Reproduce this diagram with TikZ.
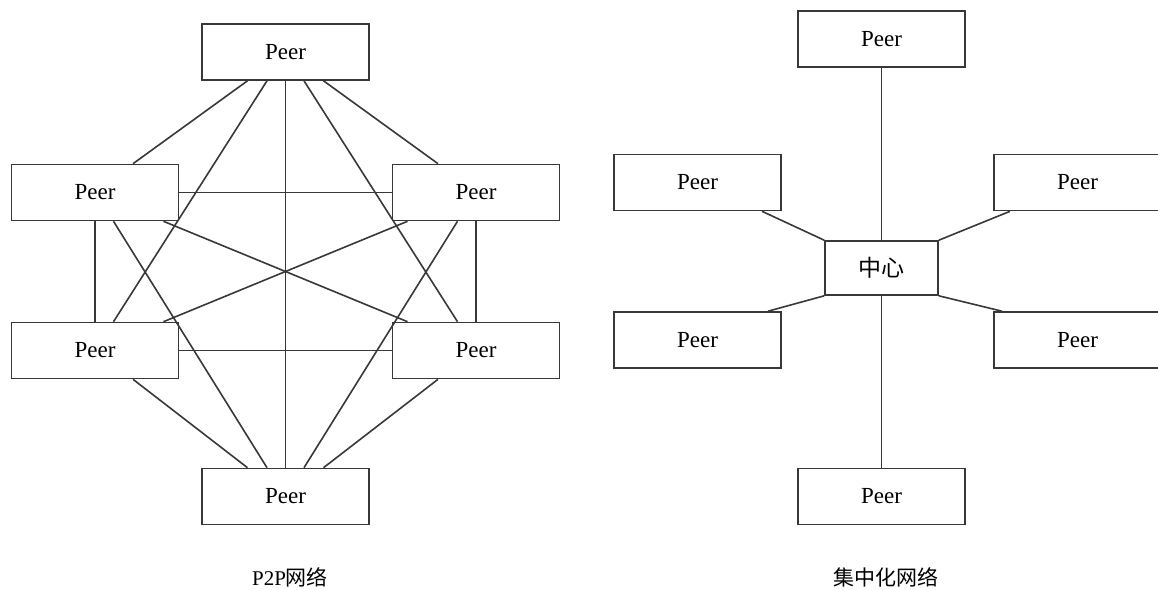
\documentclass[tikz,border=0pt]{standalone}
\usepackage{fontspec}
\setmainfont{Liberation Serif}
\newfontfamily\cjk{Noto Sans CJK SC}
\tikzset{
  peer/.style={draw=black!78, line width=1.6pt, rectangle, inner sep=0pt,
    minimum width=167pt, minimum height=56pt,
    font=\fontsize{23}{27}\selectfont},
  hub/.style={peer, minimum width=113pt, minimum height=54pt},
  link/.style={draw=black!78, line width=1.6pt},
  caption/.style={font=\fontsize{21}{24}\selectfont, inner sep=0pt}
}
\begin{document}
\begin{tikzpicture}[x=1pt, y=-1pt]
\useasboundingbox (0,0) rectangle (1158,589);
% ---------- P2P network ----------
\node[peer] (T)  at (285.5,52)  {Peer};
\node[peer] (LU) at (95,192.5)  {Peer};
\node[peer] (RU) at (476,192.5) {Peer};
\node[peer] (LL) at (95,350.5)  {Peer};
\node[peer] (RL) at (476,350.5) {Peer};
\node[peer] (B)  at (285.5,496.5) {Peer};
\draw[link] ([xshift=-38pt]T.south) -- ([xshift=38pt]LU.north);
\draw[link] ([xshift=-18.5pt]T.south) -- ([xshift=18.5pt]LL.north);
\draw[link] (T.south) -- (B.north);
\draw[link] ([xshift=18.5pt]T.south) -- ([xshift=-18.5pt]RL.north);
\draw[link] ([xshift=38pt]T.south) -- ([xshift=-38pt]RU.north);
\draw[link] (LU.east) -- (RU.west);
\draw[link] (LU.south) -- (LL.north);
\draw[link] ([xshift=18.5pt]LU.south) -- ([xshift=-18.5pt]B.north);
\draw[link] ([xshift=68.5pt]LU.south) -- ([xshift=-68.5pt]RL.north);
\draw[link] ([xshift=68.5pt]LL.north) -- ([xshift=-68.5pt]RU.south);
\draw[link] (LL.east) -- (RL.west);
\draw[link] ([xshift=38pt]LL.south) -- ([xshift=-38pt]B.north);
\draw[link] (RU.south) -- (RL.north);
\draw[link] ([xshift=-18.5pt]RU.south) -- ([xshift=18.5pt]B.north);
\draw[link] ([xshift=-38pt]RL.south) -- ([xshift=38pt]B.north);
\node[caption] (cap1) at (290,577) {P2P{\cjk 网络}};
% ---------- centralized network ----------
\node[peer] (T2)  at (881.5,39)    {Peer};
\node[peer] (LU2) at (697.5,182.5) {Peer};
\node[peer] (RU2) at (1077.5,182.5) {Peer};
\node[hub]  (C)   at (881.5,268)   {\cjk 中心};
\node[peer] (LL2) at (697.5,340)   {Peer};
\node[peer] (RL2) at (1077.5,340)  {Peer};
\node[peer] (B2)  at (881.5,496.5) {Peer};
\draw[link] (T2.south) -- (C.north);
\draw[link] (C.south) -- (B2.north);
\draw[link] ([xshift=64.5pt]LU2.south) -- (C.north west);
\draw[link] ([xshift=70.5pt]LL2.north) -- (C.south west);
\draw[link] ([xshift=-67.5pt]RU2.south) -- (C.north east);
\draw[link] ([xshift=-75.5pt]RL2.north) -- (C.south east);
\node[caption] (cap2) at (886,577) {\cjk 集中化网络};
\end{tikzpicture}
\end{document}
